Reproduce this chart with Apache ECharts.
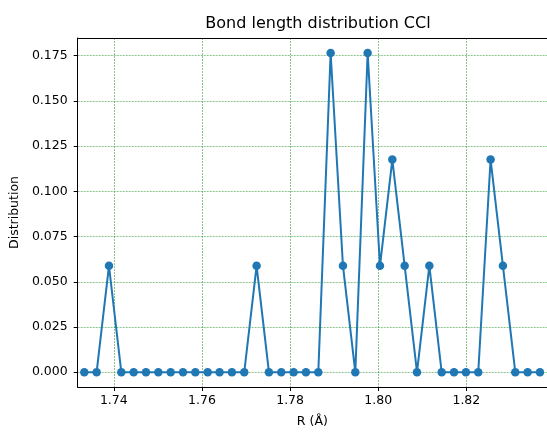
<!DOCTYPE html>
<html>
<head>
<meta charset="utf-8">
<script src="https://cdn.jsdelivr.net/npm/echarts@6/dist/echarts.min.js"></script>
<style>
  html, body { margin: 0; padding: 0; background: #fff; overflow: hidden; }
  #chart { width: 547px; height: 433px; }
</style>
</head>
<body>
<div id="chart"></div>
<script>
const titleText = 'Bond length distribution CCl';
const xLabel = 'R (Å)';
const yLabel = 'Distribution';

const rValues = [
  1.7333, 1.7361, 1.7389, 1.7417, 1.7445, 1.7473, 1.7501, 1.7529, 1.7557, 1.7585,
  1.7613, 1.7640, 1.7668, 1.7696, 1.7724, 1.7752, 1.7780, 1.7808, 1.7836, 1.7864,
  1.7892, 1.7920, 1.7948, 1.7976, 1.8004, 1.8032, 1.8060, 1.8088, 1.8116, 1.8144,
  1.8172, 1.8199, 1.8227, 1.8255, 1.8283, 1.8311, 1.8339, 1.8367
];
const distValues = [
  0, 0, 0.0588, 0, 0, 0, 0, 0, 0, 0,
  0, 0, 0, 0, 0.0588, 0, 0, 0, 0, 0,
  0.1765, 0.0588, 0, 0.1765, 0.0588, 0.1176, 0.0588, 0, 0.0588, 0,
  0, 0, 0, 0.1176, 0.0588, 0, 0, 0
];

const xTicks = [1.74, 1.76, 1.78, 1.80, 1.82];
const yTicks = [0, 0.025, 0.05, 0.075, 0.1, 0.125, 0.15, 0.175];

const FONT = 'DejaVu Sans';
const gridLine = { show: true, lineStyle: { color: 'rgba(0,128,0,0.75)', width: 0.6, type: [2, 1] } };

const chart = echarts.init(document.getElementById('chart'), null, { renderer: 'canvas', width: 547, height: 433 });
chart.setOption({
  animation: false,
  backgroundColor: '#ffffff',
  title: {
    text: titleText,
    left: 313, top: 11, textAlign: 'center',
    textStyle: { fontFamily: FONT, fontSize: 16, fontWeight: 'normal', color: '#000' }
  },
  grid: { left: 75, top: 38, right: -6, bottom: 41, containLabel: false },
  xAxis: [{
    type: 'value',
    min: 1.7318, max: 1.8383,
    name: xLabel, nameLocation: 'middle', nameGap: 28,
    nameTextStyle: { fontFamily: FONT, fontSize: 12.5, color: '#000' },
    axisLine: { show: true, onZero: false, lineStyle: { color: '#000', width: 1 } },
    axisTick: { show: true, length: 4, customValues: xTicks, lineStyle: { color: '#000', width: 1 } },
    axisLabel: { customValues: xTicks, margin: 7, fontFamily: FONT, fontSize: 12.5, color: '#000',
      formatter: v => v.toFixed(2) },
    splitLine: gridLine
  }, {
    type: 'value', position: 'top',
    min: 1.7318, max: 1.8383,
    axisLine: { show: true, onZero: false, lineStyle: { color: '#000', width: 1 } },
    axisTick: { show: false }, axisLabel: { show: false }, splitLine: { show: false }
  }],
  yAxis: {
    type: 'value',
    min: -0.0082, max: 0.1848,
    name: yLabel, nameLocation: 'middle', nameGap: 53,
    nameTextStyle: { fontFamily: FONT, fontSize: 12.5, color: '#000' },
    axisLine: { show: true, onZero: false, lineStyle: { color: '#000', width: 1 } },
    axisTick: { show: true, length: 4, customValues: yTicks, lineStyle: { color: '#000', width: 1 } },
    axisLabel: { customValues: yTicks, margin: 10, fontFamily: FONT, fontSize: 12.5, color: '#000',
      formatter: v => v.toFixed(3) },
    splitLine: gridLine
  },
  series: [{
    type: 'line',
    xAxisIndex: 0,
    data: rValues.map((r, i) => [r, distValues[i]]),
    symbol: 'circle', symbolSize: 8.5,
    itemStyle: { color: '#1f77b4' },
    lineStyle: { color: '#1f77b4', width: 2 },
    clip: true
  }]
});
</script>
</body>
</html>
